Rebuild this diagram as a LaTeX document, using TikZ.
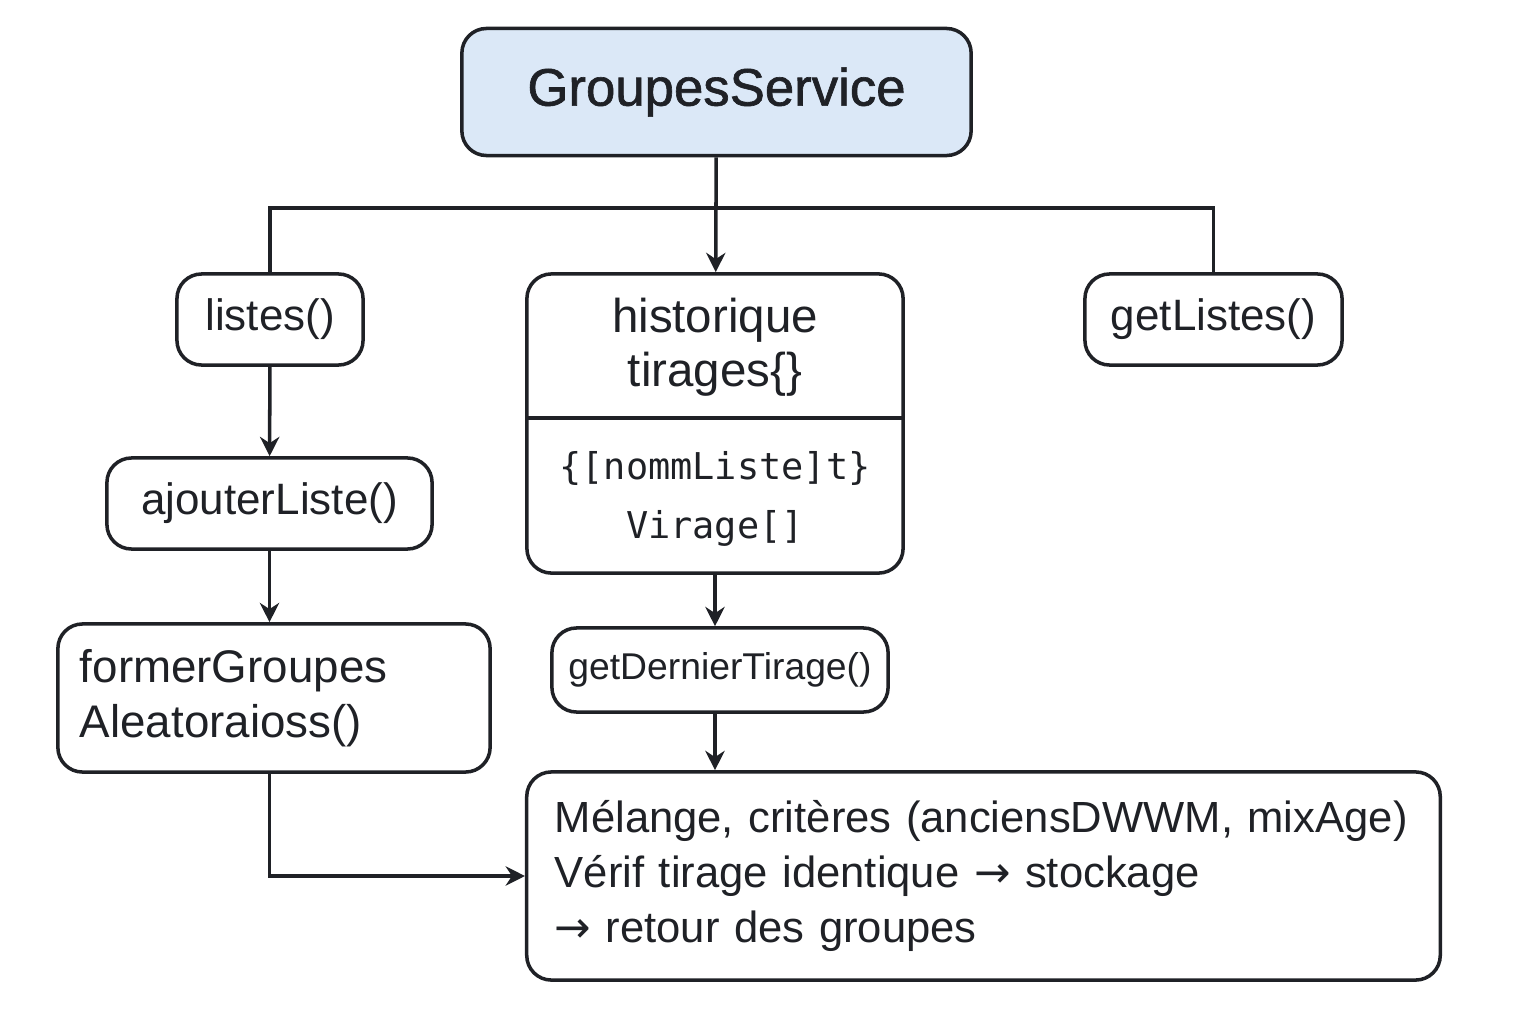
\documentclass[tikz,border=0pt]{standalone}
\usepackage{fontspec}
\setmainfont{Liberation Sans}
\newfontfamily\titrefont[FakeBold=1.2]{Liberation Sans}
\newfontfamily\flechefont{DejaVu Sans}
\setmonofont{DejaVu Sans Mono}
\definecolor{blue(pale)}{rgb}{0.86, 0.91, 0.97}
\definecolor{black(trait)}{rgb}{0.12, 0.13, 0.15}
\usetikzlibrary{arrows.meta}
\newcommand{\versdroite}{{\flechefont →}}

\begin{document}
\begin{tikzpicture}[x=0.01cm, y=-0.01cm,
	boite/.style={draw=black(trait), line width=1pt, rounded corners=7pt, align=center, inner sep=0pt, text=black(trait)},
	texte/.style={font=\fontsize{12.5}{15.6}\selectfont},
	fleche/.style={draw=black(trait), line width=1pt, -{Stealth[length=5.5pt,width=5.5pt]}},
	trait/.style={draw=black(trait), line width=1pt}]
	\useasboundingbox (0,0) rectangle (1536,1024);
	% service
	\node[boite, fill=blue(pale), minimum width=5.09cm, minimum height=1.27cm, font=\titrefont\fontsize{15}{18}\selectfont] (titre) at (716.5,92) {GroupesService};
	% colonne gauche
	\node[boite, texte, minimum width=1.86cm, minimum height=0.91cm] (listes) at (270,319.5) {listes()};
	\node[boite, texte, minimum width=3.25cm, minimum height=0.91cm] (ajout) at (269.5,503.5) {ajouterListe()};
	\node[boite, texte, align=left, text width=3.88cm, inner xsep=0.22cm, minimum height=1.48cm, font=\fontsize{13}{15.6}\selectfont] (former) at (274,698) {formerGroupes\\Aleatoraioss()};
	% colonne centrale
	\node[boite, minimum width=3.76cm, minimum height=2.99cm] (hist) at (715,423.5) {};
	\draw[trait] (hist.west |- 0,418) -- (hist.east |- 0,418);
	\node[align=center, text=black(trait), font=\fontsize{13.5}{15.4}\selectfont] (histtitre) at (715,347) {historique\\tirages\{\}};
	\node[align=center, text=black(trait), font=\ttfamily\fontsize{10.5}{17}\selectfont] (histcorps) at (715,499) {\{[nommListe]t\}\\Virage[]};
	\node[boite, minimum width=3.36cm, minimum height=0.84cm, font=\fontsize{10.6}{13}\selectfont] (dernier) at (720,670) {getDernierTirage()};
	\node[boite, align=left, text width=8.57cm, inner xsep=0.28cm, minimum height=2.08cm, font=\fontsize{12.4}{15.6}\selectfont] (bas) at (983.5,876) {Mélange, critères (anciensDWWM, mixAge)\\Vérif tirage identique \versdroite\ stockage\\\versdroite\ retour des groupes};
	% colonne droite
	\node[boite, texte, minimum width=2.57cm, minimum height=0.91cm] (getlistes) at (1213.5,319.5) {getListes()};
	% liaisons
	\coordinate (barre) at (716,208);
	\draw[trait] (listes.north) |- (barre) -| (getlistes.north);
	\draw[fleche] (titre) -- (hist);
	\draw[fleche] (listes) -- (ajout);
	\draw[fleche] (ajout.south) -- (ajout.south |- former.north);
	\draw[fleche] (former.south -| ajout.south) |- (bas.west);
	\draw[fleche] (hist.south) -- (hist.south |- dernier.north);
	\draw[fleche] (hist.south |- dernier.south) -- (hist.south |- bas.north);
\end{tikzpicture}
\end{document}
